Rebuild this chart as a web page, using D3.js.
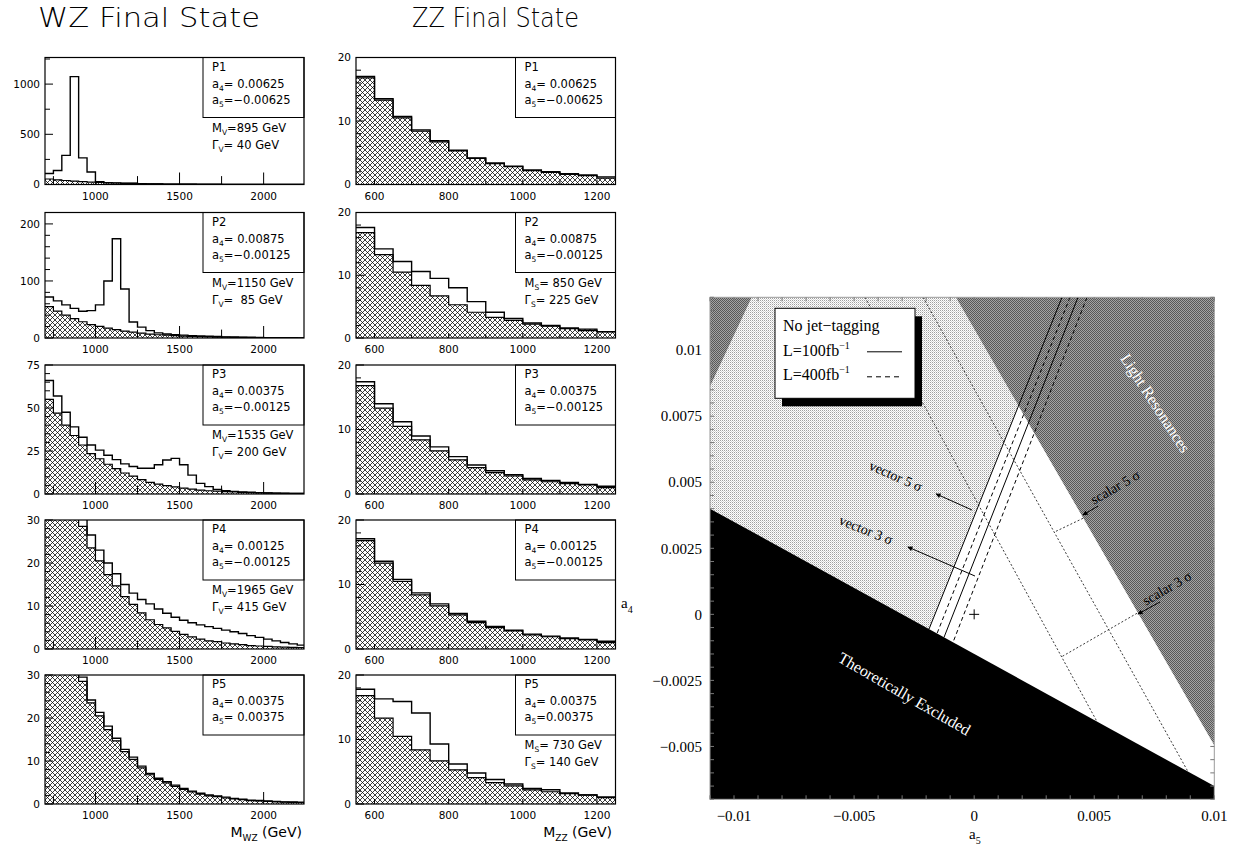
<!DOCTYPE html>
<html><head><meta charset="utf-8">
<script src="https://cdn.jsdelivr.net/npm/d3@7"></script>
<style>
body{margin:0;background:#fff;}
svg{display:block;}
text{white-space:pre;}
</style></head><body>
<svg id="fig" width="1235" height="845"></svg>
<script>
// ---------------- DATA ----------------
const wzBins = [700,750,800,850,900,950,1000,1050,1100,1150,1200,1250,1300,1350,1400,1450,1500,1550,1600,1650,1700,1750,1800,1850,1900,1950,2000,2050,2100,2150,2200];
const wzBackground = [55,47,40,34,28.5,23.5,20.5,17.3,14.7,12.2,10.4,8.4,6.8,5.7,4.9,4.1,3.4,2.8,2.3,1.9,1.7,1.4,1.2,1.0,0.8,0.7,0.6,0.5,0.45,0.4,0.35];
const wzSignalP1 = [110,140,290,1075,265,125,27,18,16,14,12,7,6,5,4,4,3,3,2,2,2,1,1,1,1,1,0.5,0.5,0.4,0.4,0.3];
const wzSignalP2 = [72,65,58,52,47,48,58,100,174,86,28,19,13,9,7,6,5,4,3.5,3,2.5,2,2,1.5,1.5,1,0.6,0.5,0.4,0.4,0.3];
const wzSignalP3 = [66,57,47.5,39,33,28.5,25.5,22.5,20,17.5,16,15,15,17,19.8,20.7,17,11,6.2,4.3,2.7,1.9,1.5,1.2,1.0,0.8,0.6,0.5,0.4,0.3,0.3];
const wzSignalP4 = [62,52,43,36,31,26.5,23,20,17.5,15,13,11.5,10.5,9.3,8.3,7.4,6.7,6.1,5.6,5.2,4.8,4.4,4.0,3.6,3.1,2.7,2.3,1.9,1.5,1.2,0.9];
const wzSignalP5 = [57,49,42,35.5,29.5,24.2,21.3,18.1,15.3,12.7,10.9,8.8,7.1,6.0,5.2,4.4,3.6,3.0,2.5,2.1,1.9,1.6,1.3,1.1,0.9,0.8,0.7,0.6,0.5,0.5,0.4];

const zzBins = [550,600,650,700,750,800,850,900,950,1000,1050,1100,1150,1200];
const zzBackground = [16.8,13.3,10.5,8.4,6.7,5.3,4.1,3.3,2.8,2.2,1.9,1.6,1.4,1.0];
const zzSignalP1 = [17.0,13.5,10.7,8.6,6.9,5.4,4.2,3.4,2.9,2.3,2.0,1.7,1.5,1.2];
const zzSignalP2 = [17.6,14.2,12.2,10.6,9.5,8.0,5.8,4.1,3.1,2.4,2.0,1.5,1.2,1.0];
const zzSignalP3 = [17.4,14.0,11.2,9.0,7.3,5.8,4.5,3.6,3.0,2.4,2.1,1.8,1.5,1.2];
const zzSignalP4 = [17.1,13.6,10.8,8.7,7.0,5.5,4.3,3.5,2.9,2.3,2.0,1.7,1.5,1.2];
const zzSignalP5 = [17.8,16.3,15.9,14.1,9.3,6.2,4.8,3.8,3.1,2.4,2.2,1.7,1.4,1.1];

const wzYMax = [1265,220,75,30,30];
const wzYTicks = [[0,500,1000],[0,100,200],[0,25,50,75],[0,10,20,30],[0,10,20,30]];
const wzYMinor = [250,20,5,2,2];
const wzXTicks = [1000,1500,2000];
const zzYMax = [20,20,20,20,20];
const zzYTicks = [0,10,20];
const zzXTicks = [600,800,1000,1200];

const panelNames = ['P1','P2','P3','P4','P5'];
const a4Text = ['0.00625','0.00875','0.00375','0.00125','0.00375'];
const wzA5Text = ['−0.00625','−0.00125','−0.00125','−0.00125',' 0.00375'];
const zzA5Text = ['−0.00625','−0.00125','−0.00125','−0.00125','0.00375'];
const wzResMass = ['895','1150','1535','1965',null];
const wzResWidth = [' 40','  85',' 200',' 415',null];
const zzResMass = [null,' 850',null,null,' 730'];
const zzResWidth = [null,' 225',null,null,' 140'];

// right panel (a5, a4) plane
const rpXTicks = [-0.01,-0.005,0,0.005,0.01];
const rpXLabels = ['−0.01','−0.005','0','0.005','0.01'];
const rpYTicks = [-0.005,-0.0025,0,0.0025,0.005,0.0075,0.01];
const rpYLabels = ['−0.005','−0.0025','0','0.0025','0.005','0.0075','0.01'];
const theoryExcluded = [[-0.011,0.0040],[0.01,-0.0065],[0.01,-0.007],[-0.011,-0.007]];
const lightResonances = [[-0.00076,0.012],[0.01,0.012],[0.01,-0.00495]];
const lightResonancesCorner = [[-0.011,0.012],[-0.00926,0.012],[-0.011,0.00862]];
const vectorExcluded = [[-0.00926,0.012],[-0.00076,0.012],[0.001842,0.007893],[-0.00188,-0.00056],[-0.011,0.0040],[-0.011,0.00862]];
const vector100a = [[0.003658,0.012],[-0.00188,-0.00056]];
const vector400a = [[0.003991,0.012],[-0.001547,-0.000727]];
const vector100b = [[0.004324,0.012],[-0.001256,-0.000872]];
const vector400b = [[0.004699,0.012],[-0.000881,-0.00106]];
const scalarLine1 = [[-0.004546,0.012],[0.005115,-0.004058]];
const scalarLine2 = [[-0.00213,0.012],[0.008905,-0.005953]];
const crossLine1 = [[0.006781,0.000040],[0.003646,-0.001603]];
const crossLine2 = [[0.004533,0.003635],[0.003346,0.003117]];
const rpLabels = [
  {text:'Light Resonances', at:[0.00755,0.0080], angle:57, fill:'#fff', size:16},
  {text:'Theoretically Excluded', at:[-0.0029,-0.0030], angle:30, fill:'#fff', size:16},
  {text:'vector 5 σ', at:[-0.00326,0.00524], angle:24, fill:'#000', size:14},
  {text:'vector 3 σ', at:[-0.0045,0.0032], angle:22, fill:'#000', size:14},
  {text:'scalar 5 σ', at:[0.00587,0.00482], angle:-30, fill:'#000', size:14},
  {text:'scalar 3 σ', at:[0.00803,0.0010], angle:-30, fill:'#000', size:14}
];
const rpArrows = [
  [[-0.00009,0.00395],[-0.00159,0.00456]],
  [[0.000035,0.00145],[-0.00276,0.00255]],
  [[0.00516,0.0041],[0.00453,0.00376]],
  [[0.00774,0.00047],[0.00682,0.00001]]
];
const smPoint = [0,0];

// ---------------- HELPERS ----------------
const svg = d3.select('#fig');
const defs = svg.append('defs');

const HC = 5;
const hp = defs.append('pattern').attr('id','xhatch').attr('patternUnits','userSpaceOnUse')
  .attr('width',HC).attr('height',HC);
hp.append('rect').attr('width',HC).attr('height',HC).attr('fill','#fff');
hp.append('path').attr('d',`M-1,-1L${HC+1},${HC+1}M${HC+1},-1L-1,${HC+1}`).attr('stroke','#000').attr('stroke-width',0.75);

const lp = defs.append('pattern').attr('id','lightDots').attr('patternUnits','userSpaceOnUse').attr('width',2).attr('height',2);
lp.append('rect').attr('width',2).attr('height',2).attr('fill','#fff');
lp.append('rect').attr('width',1).attr('height',1).attr('fill','#a0a0a0');
lp.append('rect').attr('x',1).attr('y',1).attr('width',1).attr('height',1).attr('fill','#d4d4d4');

const dp = defs.append('pattern').attr('id','darkDots').attr('patternUnits','userSpaceOnUse').attr('width',2).attr('height',2);
dp.append('rect').attr('width',2).attr('height',2).attr('fill','#a4a4a4');
dp.append('rect').attr('width',1).attr('height',1).attr('fill','#585858');
dp.append('rect').attr('x',1).attr('y',1).attr('width',1).attr('height',1).attr('fill','#585858');

defs.append('marker').attr('id','arrowHead').attr('viewBox','0 0 10 10').attr('refX',9).attr('refY',5)
  .attr('markerWidth',7).attr('markerHeight',5).attr('orient','auto')
  .append('path').attr('d','M0,0L10,5L0,10z').attr('fill','#000');

function rich(sel, s, subSize, supSize){
  const parts = s.split(/(_\{[^}]*\}|\^\{[^}]*\})/);
  let cur = 0;
  parts.forEach(p => {
    if (!p) return;
    let txt = p, target = 0, size = null;
    if (p.startsWith('_{')) { txt = p.slice(2,-1); target = subSize*0.45; size = subSize; }
    else if (p.startsWith('^{')) { txt = p.slice(2,-1); target = -supSize*0.75; size = supSize; }
    const t = sel.append('tspan').attr('dy', target - cur).text(txt);
    if (size) t.attr('font-size', size);
    cur = target;
  });
}

// ---------------- TITLES ----------------
const titleFont = '"DejaVu Sans", sans-serif';
svg.append('text').attr('x',38).attr('y',27).attr('font-family',titleFont).attr('font-weight',200)
  .attr('font-size',27).attr('textLength',222).attr('lengthAdjust','spacingAndGlyphs').text('WZ Final State');
svg.append('text').attr('x',412).attr('y',27).attr('font-family',titleFont).attr('font-weight',200)
  .attr('font-size',27).attr('textLength',167).attr('lengthAdjust','spacingAndGlyphs').text('ZZ Final State');

// ---------------- HISTOGRAM PANELS ----------------
const rowTop = [57.5, 212.5, 365, 520, 675];
const rowBottom = [184.5, 338, 494, 649, 804];
const tickFont = '"DejaVu Sans", sans-serif';

function drawHist(o){
  const g = svg.append('g');
  const xs = d3.scaleLinear().domain(o.xDomain).range([o.x0, o.x1]);
  const ys = d3.scaleLinear().domain([0, o.yMax]).range([o.bottom, o.top]);
  const cid = 'clip' + o.id;
  defs.append('clipPath').attr('id', cid).append('rect')
    .attr('x', o.x0).attr('y', o.top).attr('width', o.x1 - o.x0).attr('height', o.bottom - o.top);
  const pts = v => { const a = o.bins.map((b,i)=>[b, v[i]]); a.push([o.bins[o.bins.length-1] + o.binW, v[v.length-1]]); return a; };
  const area = d3.area().x(d=>xs(d[0])).y0(ys(0)).y1(d=>ys(d[1])).curve(d3.curveStepAfter);
  const line = d3.line().x(d=>xs(d[0])).y(d=>ys(d[1])).curve(d3.curveStepAfter);
  const cg = g.append('g').attr('clip-path', `url(#${cid})`);
  cg.append('path').attr('d', area(pts(o.bg))).attr('fill','url(#xhatch)').attr('stroke','none');
  cg.append('path').attr('d', line(pts(o.bg))).attr('fill','none').attr('stroke','#000').attr('stroke-width',1.2);
  cg.append('path').attr('d', line(pts(o.sig))).attr('fill','none').attr('stroke','#000').attr('stroke-width',1.4);

  // legend box
  const bx = o.x1 - o.boxW;
  g.append('rect').attr('x', bx).attr('y', o.top).attr('width', o.boxW).attr('height', 60)
    .attr('fill','#fff').attr('stroke','#000').attr('stroke-width',1);
  const lines = [[o.name, 13],[`a_{4}= ${o.a4}`, 30],[`a_{5}=${o.a5}`, 46]];
  if (o.mass) { lines.push([`M_{${o.res}}=${o.mass} GeV`, 74]); lines.push([`Γ_{${o.res}}=${o.width} GeV`, 91]); }
  lines.forEach(([s, dy]) => {
    const t = g.append('text').attr('x', bx + 9).attr('y', o.top + dy)
      .attr('font-family', tickFont).attr('font-size', 11.5);
    rich(t, s, 7.5, 7.5);
  });

  // frame
  g.append('rect').attr('x', o.x0).attr('y', o.top).attr('width', o.x1 - o.x0).attr('height', o.bottom - o.top)
    .attr('fill','none').attr('stroke','#000').attr('stroke-width',1.2);

  // y ticks
  const yMinorVals = d3.range(0, o.yMax + 1e-9, o.yMinor);
  yMinorVals.forEach(v => {
    const major = o.yTicks.includes(v);
    g.append('line').attr('x1', o.x0).attr('x2', o.x0 + (major ? 8 : 5))
      .attr('y1', ys(v)).attr('y2', ys(v)).attr('stroke','#000').attr('stroke-width',1);
  });
  o.yTicks.forEach(v => {
    g.append('text').attr('x', o.x0 - 5).attr('y', ys(v)).attr('dy','0.35em').attr('text-anchor','end')
      .attr('font-family', tickFont).attr('font-size', 10.5).text(v);
  });
  // x ticks
  o.xMinor.forEach(v => {
    const major = o.xTicks.includes(v);
    g.append('line').attr('x1', xs(v)).attr('x2', xs(v)).attr('y1', o.bottom).attr('y2', o.bottom - (major ? o.xTickLen : o.xTickLen*0.7))
      .attr('stroke','#000').attr('stroke-width',1);
  });
  o.xTicks.forEach(v => {
    g.append('text').attr('x', xs(v)).attr('y', o.bottom + 15).attr('text-anchor','middle')
      .attr('font-family', tickFont).attr('font-size', 10.5).text(v);
  });
}

const wzSignals = [wzSignalP1, wzSignalP2, wzSignalP3, wzSignalP4, wzSignalP5];
const zzSignals = [zzSignalP1, zzSignalP2, zzSignalP3, zzSignalP4, zzSignalP5];
for (let i = 0; i < 5; i++) {
  drawHist({id:'wz'+i, x0:45, x1:304, top:rowTop[i], bottom:rowBottom[i], xDomain:[700,2240], yMax:wzYMax[i],
    bins:wzBins, binW:50, bg:wzBackground, sig:wzSignals[i], yTicks:wzYTicks[i], yMinor:wzYMinor[i],
    xTicks:wzXTicks, xMinor:[750,1000,1250,1500,1750,2000], xTickLen:12, boxW:101,
    name:panelNames[i], a4:a4Text[i], a5:wzA5Text[i], mass:wzResMass[i], width:wzResWidth[i], res:'V'});
  drawHist({id:'zz'+i, x0:356, x1:615.5, top:rowTop[i], bottom:rowBottom[i], xDomain:[550,1250], yMax:zzYMax[i],
    bins:zzBins, binW:50, bg:zzBackground, sig:zzSignals[i], yTicks:zzYTicks, yMinor:2,
    xTicks:zzXTicks, xMinor:[600,700,800,900,1000,1100,1200], xTickLen:5, boxW:100,
    name:panelNames[i], a4:a4Text[i], a5:zzA5Text[i], mass:zzResMass[i], width:zzResWidth[i], res:'S'});
}
// axis titles
const mwz = svg.append('text').attr('x',302).attr('y',837).attr('text-anchor','end')
  .attr('font-family',tickFont).attr('font-size',14);
rich(mwz, 'M_{WZ} (GeV)', 9, 9);
const mzz = svg.append('text').attr('x',612).attr('y',837).attr('text-anchor','end')
  .attr('font-family',tickFont).attr('font-size',14);
rich(mzz, 'M_{ZZ} (GeV)', 9, 9);

// ---------------- RIGHT PANEL ----------------
const RX0 = 710, RX1 = 1214.3, RY0 = 297.3, RY1 = 799.3;
const rx = d3.scaleLinear().domain([-0.011, 0.01]).range([RX0, RX1]);
const ry = d3.scaleLinear().domain([-0.007, 0.012]).range([RY1, RY0]);
const rline = d3.line().x(d=>rx(d[0])).y(d=>ry(d[1]));
const serif = '"Liberation Serif", "Times New Roman", serif';

defs.append('clipPath').attr('id','rpClip').append('rect')
  .attr('x',RX0).attr('y',RY0).attr('width',RX1-RX0).attr('height',RY1-RY0);
const rp = svg.append('g');
const rc = rp.append('g').attr('clip-path','url(#rpClip)');
rc.append('rect').attr('x',RX0).attr('y',RY0).attr('width',RX1-RX0).attr('height',RY1-RY0).attr('fill','#fff');
rc.append('path').attr('d', rline(vectorExcluded)+'Z').attr('fill','url(#lightDots)');
rc.append('path').attr('d', rline(lightResonances)+'Z').attr('fill','url(#darkDots)');
rc.append('path').attr('d', rline(lightResonancesCorner)+'Z').attr('fill','url(#darkDots)');
[scalarLine1, scalarLine2, crossLine1, crossLine2].forEach(l => {
  rc.append('path').attr('d', rline(l)).attr('fill','none').attr('stroke','#222').attr('stroke-width',0.9).attr('stroke-dasharray','2,2');
});
rc.append('path').attr('d', rline(theoryExcluded)+'Z').attr('fill','#000');
[[vector100a,null],[vector400a,'4,3'],[vector100b,null],[vector400b,'4,3']].forEach(([l,da]) => {
  const p = rc.append('path').attr('d', rline(l)).attr('fill','none').attr('stroke','#000').attr('stroke-width',1);
  if (da) p.attr('stroke-dasharray', da);
});
rpArrows.forEach(a => {
  rc.append('path').attr('d', rline(a)).attr('fill','none').attr('stroke','#000').attr('stroke-width',1)
    .attr('marker-end','url(#arrowHead)');
});
rpLabels.forEach(l => {
  rc.append('text').attr('transform', `translate(${rx(l.at[0])},${ry(l.at[1])}) rotate(${l.angle})`)
    .attr('text-anchor','middle').attr('dy','0.35em').attr('font-family',serif).attr('font-size',l.size)
    .attr('fill',l.fill).text(l.text);
});
// SM point
rc.append('path').attr('d', `M${rx(smPoint[0])-5},${ry(smPoint[1])}h10M${rx(smPoint[0])},${ry(smPoint[1])-5}v10`)
  .attr('stroke','#000').attr('stroke-width',1);

// legend
const LX = 775, LY = 308.3, LW = 140, LH = 90;
rp.append('rect').attr('x',LX+7).attr('y',LY+8).attr('width',LW).attr('height',LH).attr('fill','#000');
rp.append('rect').attr('x',LX).attr('y',LY).attr('width',LW).attr('height',LH).attr('fill','#fff').attr('stroke','#000').attr('stroke-width',1);
rp.append('text').attr('x',LX+8).attr('y',LY+23).attr('font-family',serif).attr('font-size',16).text('No jet−tagging');
const l1 = rp.append('text').attr('x',LX+8).attr('y',LY+48).attr('font-family',serif).attr('font-size',16);
rich(l1, 'L=100fb^{−1}', 10, 10);
const l2 = rp.append('text').attr('x',LX+8).attr('y',LY+72).attr('font-family',serif).attr('font-size',16);
rich(l2, 'L=400fb^{−1}', 10, 10);
rp.append('line').attr('x1',LX+92).attr('x2',LX+127).attr('y1',LY+43.5).attr('y2',LY+43.5).attr('stroke','#000');
rp.append('line').attr('x1',LX+92).attr('x2',LX+127).attr('y1',LY+68.5).attr('y2',LY+68.5).attr('stroke','#000').attr('stroke-dasharray','5,4');

// frame & ticks
rp.append('rect').attr('x',RX0).attr('y',RY0).attr('width',RX1-RX0).attr('height',RY1-RY0)
  .attr('fill','none').attr('stroke','#9a9a9a').attr('stroke-width',1);
const xMinorTicks = d3.range(-11, 11).map(i => i/1000);
xMinorTicks.forEach(v => {
  rp.append('line').attr('x1',rx(v)).attr('x2',rx(v)).attr('y1',RY1).attr('y2',RY1-4).attr('stroke','#777');
  rp.append('line').attr('x1',rx(v)).attr('x2',rx(v)).attr('y1',RY0).attr('y2',RY0+4).attr('stroke','#777');
});
const yMinorTicks = d3.range(-14, 25).map(i => i/2000);
yMinorTicks.forEach(v => {
  rp.append('line').attr('x1',RX0).attr('x2',RX0+4).attr('y1',ry(v)).attr('y2',ry(v)).attr('stroke','#777');
  rp.append('line').attr('x1',RX1).attr('x2',RX1-4).attr('y1',ry(v)).attr('y2',ry(v)).attr('stroke','#777');
});
rpXTicks.forEach((v,i) => {
  rp.append('text').attr('x',rx(v)).attr('y',821).attr('text-anchor','middle').attr('font-family',serif)
    .attr('font-size',15).text(rpXLabels[i]);
});
rpYTicks.forEach((v,i) => {
  rp.append('text').attr('x',702).attr('y',ry(v)).attr('dy','0.35em').attr('text-anchor','end').attr('font-family',serif)
    .attr('font-size',15).text(rpYLabels[i]);
});
const ya = rp.append('text').attr('x',621).attr('y',608).attr('font-family',serif).attr('font-size',15);
rich(ya, 'a_{4}', 10, 10);
const xa = rp.append('text').attr('x',969).attr('y',839).attr('font-family',serif).attr('font-size',15);
rich(xa, 'a_{5}', 10, 10);
</script>
</body></html>
